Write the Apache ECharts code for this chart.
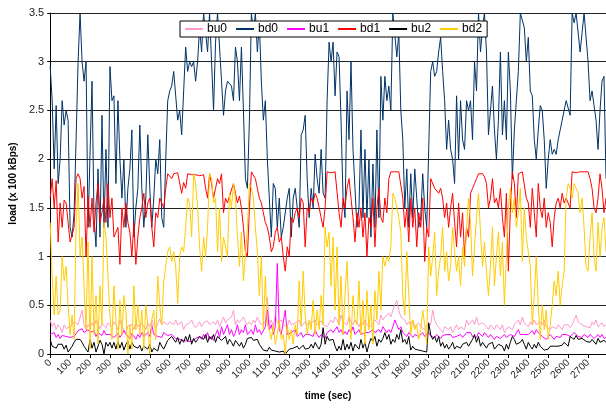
<!DOCTYPE html>
<html>
<head>
<meta charset="utf-8">
<script src="https://cdn.jsdelivr.net/npm/echarts@6/dist/echarts.min.js"></script>
<style>
  html, body { margin: 0; padding: 0; background: #fff; }
  #chart { width: 606px; height: 408px; }
</style>
</head>
<body>
<div id="chart"></div>
<script>
// sampling step of the log, seconds
const STEP = 10;

const bu0 = [
  0.35, 0.28, 0.32, 0.25, 0.3, 0.27, 0.22, 0.3, 0.26, 0.24,
  0.28, 0.3, 0.33, 0.32, 0.3, 0.28, 0.45, 0.3, 0.25, 0.3,
  0.27, 0.32, 0.28, 0.35, 0.3, 0.26, 0.31, 0.29, 0.27, 0.32,
  0.3, 0.28, 0.33, 0.3, 0.25, 0.35, 0.28, 0.3, 0.22, 0.29,
  0.27, 0.3, 0.25, 0.33, 0.28, 0.26, 0.31, 0.28, 0.25, 0.32,
  0.28, 0.35, 0.3, 0.27, 0.31, 0.36, 0.3, 0.33, 0.35, 0.3,
  0.33, 0.32, 0.3, 0.35, 0.3, 0.28, 0.33, 0.25, 0.3, 0.28,
  0.32, 0.35, 0.3, 0.27, 0.3, 0.33, 0.28, 0.32, 0.3, 0.34,
  0.3, 0.28, 0.33, 0.3, 0.35, 0.28, 0.3, 0.38, 0.32, 0.35,
  0.33, 0.38, 0.45, 0.3, 0.35, 0.32, 0.3, 0.38, 0.33, 0.3,
  0.33, 0.3, 0.35, 0.32, 0.38, 0.33, 0.3, 0.28, 0.33, 0.58,
  0.3, 0.35, 0.28, 0.4, 0.32, 0.3, 0.35, 0.3, 0.32, 0.28,
  0.35, 0.3, 0.28, 0.32, 0.3, 0.35, 0.28, 0.3, 0.33, 0.3,
  0.28, 0.32, 0.3, 0.35, 0.3, 0.28, 0.34, 0.3, 0.32, 0.28,
  0.3, 0.35, 0.32, 0.38, 0.35, 0.3, 0.4, 0.33, 0.35, 0.3,
  0.38, 0.33, 0.3, 0.35, 0.32, 0.28, 0.33, 0.3, 0.35, 0.3,
  0.32, 0.28, 0.3, 0.35, 0.33, 0.3, 0.4, 0.35, 0.38, 0.4,
  0.42, 0.38, 0.45, 0.5, 0.55, 0.45, 0.38, 0.4, 0.35, 0.3,
  0.33, 0.3, 0.35, 0.28, 0.3, 0.32, 0.28, 0.3, 0.25, 0.3,
  0.28, 0.3, 0.45, 0.35, 0.3, 0.28, 0.25, 0.22, 0.28, 0.3,
  0.25, 0.28, 0.22, 0.26, 0.3, 0.25, 0.28, 0.3, 0.25, 0.35,
  0.3, 0.28, 0.35, 0.3, 0.38, 0.3, 0.28, 0.32, 0.3, 0.28,
  0.25, 0.3, 0.28, 0.25, 0.3, 0.28, 0.25, 0.3, 0.22, 0.25,
  0.28, 0.3, 0.25, 0.3, 0.28, 0.35, 0.3, 0.38, 0.32, 0.3,
  0.28, 0.33, 0.3, 0.35, 0.3, 0.28, 0.33, 0.3, 0.35, 0.28,
  0.3, 0.25, 0.28, 0.3, 0.26, 0.3, 0.28, 0.25, 0.3, 0.28,
  0.3, 0.27, 0.3, 0.28, 0.4, 0.33, 0.35, 0.3, 0.32, 0.28,
  0.3, 0.27, 0.33, 0.3, 0.35, 0.28, 0.3, 0.32, 0.28, 0.3
];

const bd0 = [
  2.95, 2.6, 1.9, 2.55, 1.75, 2.0, 2.6, 2.35, 2.5, 2.4,
  1.3, 1.2, 1.45, 2.2, 3.0, 3.5, 3.0, 2.8, 3.0, 1.3,
  1.3, 2.8, 1.4, 1.1, 1.9, 1.2, 2.45, 1.3, 2.1, 1.3,
  2.95, 2.6, 2.65, 1.75, 2.6, 2.0, 1.6, 2.0, 1.3, 1.7,
  1.9, 2.3, 1.2, 1.5, 1.7, 2.35, 1.7, 1.3, 1.6, 2.25,
  1.7, 1.3, 1.6, 2.0, 1.85, 2.2, 1.4, 1.3, 2.0, 2.6,
  2.7, 2.75, 2.9, 2.9, 2.4, 2.5, 2.25, 2.7, 3.15, 2.9,
  3.0, 2.95, 3.0, 2.8, 3.0, 3.35, 3.1, 3.5, 3.5, 3.1,
  3.5, 3.5, 2.5, 3.2, 3.5, 3.5, 2.8, 2.45, 2.7, 2.8,
  2.8, 2.75, 2.6, 3.15, 3.0, 2.6, 3.15, 2.5, 1.8, 1.7,
  2.4, 3.5, 3.3, 3.5, 3.1, 3.4, 2.8, 2.4, 2.6, 2.0,
  1.6, 1.2, 1.75, 1.7, 1.3, 1.6, 1.2, 1.3, 1.3, 1.6,
  1.7, 1.2, 1.6, 1.7, 1.5, 1.3, 2.25, 2.3, 2.45, 1.8,
  1.4, 1.7, 1.5, 2.05, 1.8, 1.65, 2.1, 1.65, 1.6, 2.6,
  3.2, 3.0, 3.2, 2.65, 3.1, 3.05, 2.4, 1.6, 1.4, 2.7,
  2.2, 3.0, 2.1, 1.7, 1.3, 1.5, 2.3, 1.4, 2.1, 1.4,
  2.0, 1.2, 1.95, 1.3, 2.3, 1.4, 2.85, 2.4, 2.85, 2.6,
  2.75, 2.5, 3.5, 3.5, 3.05, 3.3, 2.5, 2.2, 1.5, 1.9,
  1.3, 1.85, 1.4, 1.9, 1.6, 1.3, 1.4, 1.85, 1.5, 1.3,
  1.3, 2.9, 3.0, 2.85, 2.9, 3.1, 3.25, 2.9, 2.6, 2.1,
  2.4, 2.1, 2.0, 1.75, 2.65, 2.0, 2.6, 2.2, 2.1, 2.6,
  2.5, 2.6, 2.2, 3.0, 2.7, 3.5, 3.1, 3.35, 3.5, 3.1,
  2.25, 2.5, 2.75, 2.3, 2.0, 2.4, 3.1, 2.25, 2.6, 2.2,
  3.1, 2.7, 1.8, 2.3, 2.6, 2.9, 3.5, 3.5, 3.35, 3.0,
  3.25, 2.7, 2.65, 2.2, 2.0, 2.3, 2.55, 2.5, 2.2, 1.7,
  2.0, 2.2, 2.05, 2.1, 2.05, 2.2, 2.3, 2.4, 2.5, 2.6,
  2.6, 2.45, 3.5, 3.4, 3.5, 3.5, 3.1, 3.3, 3.5, 3.5,
  3.0, 2.6, 2.7, 2.55, 2.4, 2.1, 2.5, 2.8, 2.85, 1.8
];

const bu1 = [
  0.2, 0.18, 0.22, 0.17, 0.2, 0.16, 0.19, 0.17, 0.18, 0.16,
  0.17, 0.19, 0.18, 0.2, 0.24, 0.22, 0.26, 0.22, 0.2, 0.25,
  0.22, 0.2, 0.24, 0.18, 0.22, 0.2, 0.19, 0.24, 0.2, 0.18,
  0.2, 0.22, 0.17, 0.19, 0.21, 0.17, 0.2, 0.24, 0.2, 0.18,
  0.16, 0.21, 0.18, 0.15, 0.2, 0.17, 0.22, 0.18, 0.16, 0.22,
  0.18, 0.3, 0.2, 0.22, 0.18, 0.2, 0.17, 0.22, 0.2, 0.19,
  0.17, 0.2, 0.18, 0.16, 0.14, 0.15, 0.16, 0.14, 0.15, 0.13,
  0.15, 0.13, 0.14, 0.16, 0.15, 0.18, 0.15, 0.2, 0.16, 0.22,
  0.15, 0.18, 0.14, 0.2, 0.25, 0.17, 0.28, 0.2, 0.22, 0.3,
  0.2, 0.25, 0.18, 0.22, 0.3, 0.2, 0.25, 0.22, 0.3, 0.2,
  0.22, 0.25, 0.2, 0.3, 0.22, 0.25, 0.2, 0.22, 0.28, 0.45,
  0.25, 0.3, 0.2, 0.28, 0.93, 0.25, 0.2, 0.22, 0.45, 0.2,
  0.18, 0.22, 0.2, 0.25, 0.18, 0.2, 0.22, 0.17, 0.2, 0.18,
  0.2, 0.22, 0.18, 0.25, 0.2, 0.17, 0.2, 0.18, 0.16, 0.22,
  0.2, 0.25, 0.22, 0.2, 0.28, 0.22, 0.25, 0.2, 0.23, 0.2,
  0.25, 0.22, 0.28, 0.2, 0.22, 0.25, 0.2, 0.18, 0.22, 0.2,
  0.22, 0.2, 0.25, 0.22, 0.2, 0.25, 0.22, 0.28, 0.25, 0.22,
  0.25, 0.22, 0.28, 0.35, 0.3, 0.25, 0.28, 0.22, 0.2, 0.18,
  0.22, 0.2, 0.17, 0.2, 0.22, 0.18, 0.2, 0.22, 0.18, 0.2,
  0.22, 0.18, 0.2, 0.17, 0.2, 0.18, 0.16, 0.19, 0.17, 0.2,
  0.18, 0.2, 0.17, 0.15, 0.18, 0.16, 0.2, 0.17, 0.19, 0.22,
  0.2, 0.22, 0.18, 0.2, 0.17, 0.22, 0.2, 0.18, 0.22, 0.2,
  0.17, 0.2, 0.18, 0.15, 0.18, 0.2, 0.16, 0.18, 0.2, 0.17,
  0.18, 0.2, 0.22, 0.18, 0.2, 0.25, 0.2, 0.22, 0.2, 0.18,
  0.2, 0.22, 0.24, 0.2, 0.25, 0.22, 0.2, 0.18, 0.2, 0.15,
  0.17, 0.2, 0.18, 0.15, 0.18, 0.2, 0.17, 0.2, 0.18, 0.2,
  0.2, 0.18, 0.2, 0.22, 0.2, 0.18, 0.2, 0.17, 0.2, 0.18,
  0.17, 0.2, 0.18, 0.16, 0.18, 0.2, 0.17, 0.2, 0.16, 0.17
];

const bd1 = [
  1.6, 1.8, 1.5, 1.78, 1.15, 1.55, 1.3, 1.58, 1.55, 1.35,
  1.15, 1.15, 1.3, 1.8, 1.85, 1.8, 1.6, 1.72, 1.0, 1.62,
  1.3, 1.6, 1.25, 1.55, 1.75, 1.35, 1.45, 1.6, 1.35, 1.75,
  1.4, 1.6, 1.2, 1.25, 1.3, 0.92, 1.5, 1.3, 1.55, 1.35,
  1.25, 1.0, 1.35, 0.92, 1.2, 1.4, 1.5, 1.65, 1.4, 1.55,
  1.6, 1.3, 1.1, 1.45, 1.4, 1.6, 1.55, 1.5, 1.7, 1.85,
  1.84, 1.8, 1.85, 1.83, 1.86, 1.84, 1.65, 1.76, 1.7, 1.85,
  1.85, 1.84, 1.86, 1.84, 1.85, 1.83, 1.85, 1.84, 1.7, 1.6,
  1.85, 1.75, 1.6, 1.7, 1.8, 1.75, 1.85, 1.45, 1.6, 1.55,
  1.62, 1.6, 1.75, 1.65, 1.55, 1.62, 1.5, 1.3, 1.05, 1.0,
  1.5, 1.87, 1.85, 1.8, 1.7, 1.6, 1.55, 1.45, 1.35, 1.3,
  1.2, 1.05, 1.1, 1.25, 1.3, 1.15, 1.2, 1.0, 0.85, 1.1,
  1.0, 1.4, 1.35, 1.45, 1.5, 1.4, 1.6, 1.55, 1.1, 1.5,
  1.45, 1.6, 1.55, 1.65, 1.6, 1.5, 1.4, 1.3, 1.5, 1.87,
  1.87, 1.86, 1.87, 1.87, 1.85, 1.45, 1.3, 1.6, 1.5, 1.7,
  1.8, 1.6, 1.4, 1.15, 1.45, 1.3, 1.5, 1.2, 1.45, 1.0,
  1.4, 1.3, 1.6, 1.1, 1.5, 1.7, 1.4, 1.35, 1.6, 1.45,
  1.8, 1.87, 1.87, 1.87, 1.86, 1.87, 1.85, 1.6, 1.3, 1.5,
  1.15, 1.6, 1.3, 1.5, 1.1, 1.45, 1.3, 1.6, 0.95, 1.3,
  1.2, 1.8, 1.78, 1.7, 1.72, 1.65, 1.7, 1.6, 1.4, 1.55,
  1.3, 1.5, 1.65, 1.35, 1.1, 1.55, 1.2, 1.45, 1.0, 1.3,
  1.2, 1.65, 1.7, 1.75, 1.8, 1.85, 1.87, 1.85, 1.82, 1.75,
  1.5, 1.6, 1.8, 1.55, 1.6, 1.5, 1.7, 1.4, 1.2, 1.65,
  0.85, 1.5, 1.87, 1.75, 1.4, 1.85, 1.85, 1.87, 1.85, 1.6,
  1.55, 1.3, 1.7, 1.45, 1.2, 1.75, 1.5, 1.4, 1.6, 1.3,
  1.45, 1.35, 1.1, 1.4, 1.55, 1.6, 1.5, 1.65, 1.55, 1.6,
  1.6, 1.5, 1.87, 1.87, 1.86, 1.87, 1.87, 1.86, 1.87, 1.85,
  1.87, 1.8, 1.7, 1.5, 1.45, 1.6, 1.85, 1.7, 1.45, 1.6
];

const bu2 = [
  0.15, 0.08, 0.1, 0.06, 0.1, 0.08, 0.1, 0.05, 0.09, 0.02,
  0.02, 0.08, 0.12, 0.15, 0.17, 0.15, 0.12, 0.08, 0.1, 0.02,
  0.15, 0.06, 0.12, 0.02, 0.03, 0.14, 0.1, 0.0, 0.12, 0.08,
  0.12, 0.06, 0.12, 0.05, 0.13, 0.06, 0.12, 0.04, 0.1, 0.13,
  0.05, 0.12, 0.08, 0.1, 0.06, 0.09, 0.03, 0.08, 0.1, 0.05,
  0.1, 0.02, 0.06, 0.07, 0.03, 0.12, 0.08, 0.05, 0.07, 0.14,
  0.16, 0.18, 0.2, 0.12, 0.17, 0.1, 0.15, 0.12, 0.18, 0.13,
  0.2, 0.1, 0.16, 0.12, 0.15, 0.18, 0.2, 0.15, 0.2, 0.12,
  0.18, 0.15, 0.2, 0.12, 0.18, 0.2, 0.14, 0.12, 0.18, 0.1,
  0.15, 0.12, 0.08, 0.14, 0.12, 0.08, 0.12, 0.06, 0.1, 0.16,
  0.15, 0.17, 0.14, 0.12, 0.15, 0.1, 0.08, 0.04, 0.02, 0.03,
  0.07, 0.04, 0.06, 0.03, 0.04, 0.02, 0.04, 0.03, 0.0, 0.02,
  0.05, 0.04, 0.06, 0.05, 0.08, 0.05, 0.07, 0.09, 0.05, 0.06,
  0.06, 0.1, 0.06, 0.12, 0.08, 0.05, 0.1, 0.27, 0.1, 0.18,
  0.14, 0.12, 0.15, 0.08, 0.03, 0.08, 0.04, 0.15, 0.04, 0.1,
  0.05, 0.12, 0.03, 0.1, 0.08, 0.05, 0.15, 0.06, 0.12, 0.02,
  0.1, 0.16, 0.13, 0.18, 0.08, 0.15, 0.12, 0.16, 0.22, 0.15,
  0.2, 0.1, 0.15, 0.12, 0.2, 0.15, 0.25, 0.12, 0.15, 0.1,
  0.18, 0.04, 0.08, 0.05, 0.06, 0.04, 0.06, 0.03, 0.05, 0.02,
  0.32, 0.2, 0.15, 0.18, 0.12, 0.18, 0.08, 0.12, 0.06, 0.1,
  0.05, 0.08, 0.12, 0.05, 0.08, 0.1, 0.06, 0.1, 0.08, 0.12,
  0.08, 0.1, 0.15, 0.2, 0.12, 0.18, 0.08, 0.12, 0.1, 0.06,
  0.1, 0.08, 0.12, 0.05, 0.03, 0.1, 0.12, 0.08, 0.03, 0.1,
  0.05, 0.12, 0.18, 0.15, 0.1, 0.08, 0.12, 0.15, 0.1, 0.05,
  0.12, 0.08, 0.05, 0.1, 0.06, 0.12, 0.08, 0.06, 0.04, 0.06,
  0.05, 0.08, 0.06, 0.08, 0.1, 0.08, 0.1, 0.09, 0.12, 0.1,
  0.08, 0.18, 0.17, 0.15, 0.19, 0.15, 0.17, 0.16, 0.15, 0.13,
  0.14, 0.12, 0.15, 0.13, 0.1, 0.16, 0.12, 0.1, 0.14, 0.12
];

const bd2 = [
  1.35, 0.8, 0.4, 0.8, 0.4, 0.45, 1.0, 0.75, 0.9, 0.5,
  0.2, 0.4, 0.15, 1.3, 1.75, 1.0, 1.2, 0.7, 0.25, 1.15,
  0.05, 1.0, 0.2, 0.6, 0.1, 0.7, 0.3, 1.35, 1.2, 0.8,
  0.4, 0.15, 0.7, 0.35, 0.05, 0.55, 0.2, 0.6, 0.45, 0.0,
  0.3, 0.05, 0.7, 0.25, 0.5, 0.2, 0.45, 0.05, 0.5, 0.3,
  0.0, 0.35, 0.45, 0.15, 0.8, 0.5, 0.3, 0.75, 0.9, 1.05,
  1.1, 0.95, 1.05, 0.9, 0.52, 1.0, 1.1, 1.05, 1.3, 1.6,
  1.55, 1.2, 1.85, 1.75, 1.5, 1.1, 0.85, 1.2, 1.0, 1.3,
  1.85, 1.8, 1.55, 1.6, 1.05, 1.5, 0.95, 1.2, 1.1, 1.0,
  1.65, 1.5, 1.75, 1.6, 1.2, 0.9, 1.25, 0.75, 0.75, 1.3,
  1.75, 1.7, 1.6, 1.3, 1.05, 0.6, 1.0, 0.25, 0.8, 0.3,
  0.25, 0.15, 0.3, 0.1, 0.2, 0.35, 0.15, 0.2, 0.0, 0.3,
  0.15, 0.25, 0.1, 0.3, 0.2, 0.75, 0.3, 0.85, 0.4, 0.2,
  0.35, 0.25, 0.55, 0.2, 0.45, 0.25, 0.6, 0.3, 1.3, 1.1,
  1.25, 0.7, 1.2, 0.45, 1.1, 0.3, 0.8, 0.2, 0.6, 0.95,
  0.4, 0.15, 0.6, 0.35, 0.3, 0.75, 0.2, 0.55, 0.1, 0.65,
  0.25, 0.5, 0.1, 0.65, 0.35, 0.85, 0.45, 1.0, 0.9, 1.0,
  0.95, 1.1, 1.65, 1.6, 1.6, 1.4, 1.25, 0.6, 0.4, 1.05,
  0.6, 0.2, 0.35, 0.25, 0.3, 0.15, 0.25, 0.45, 0.3, 0.1,
  1.1, 0.8, 1.0, 1.25, 0.6, 0.85, 1.0, 1.3, 0.85, 1.05,
  0.75, 0.9, 1.3, 1.05, 0.85, 1.0, 0.7, 1.1, 0.9, 1.3,
  1.6, 1.35, 0.8, 1.1, 1.4, 1.65, 1.25, 0.9, 1.15, 0.85,
  0.6, 0.9, 1.3, 0.7, 1.0, 1.25, 0.8, 1.15, 0.5, 1.0,
  1.5, 1.7, 1.45, 1.6, 1.3, 1.45, 1.7, 0.95, 1.5, 1.2,
  1.05, 0.9, 0.3, 0.6, 1.0, 0.5, 0.15, 0.5, 0.25, 0.45,
  0.15, 0.3, 0.5, 0.75, 0.6, 0.85, 0.5, 0.7, 0.85, 1.6,
  1.75, 1.7, 1.6, 1.75, 1.7, 1.65, 1.45, 1.6, 1.3, 0.9,
  0.85, 1.2, 1.45, 1.0, 0.85, 1.35, 1.0, 1.3, 1.4, 1.05
];

const seriesNames = ['bu0', 'bd0', 'bu1', 'bd1', 'bu2', 'bd2'];
const seriesValues = [bu0, bd0, bu1, bd1, bu2, bd2];
const colors = ['#ff99cc', '#003366', '#ff00ff', '#ff0000', '#000000', '#ffcc00'];

// time categories (sec), one per sample
const times = bd0.map((v, i) => i * STEP);

const chart = echarts.init(document.getElementById('chart'));

const option = {
  animation: false,
  color: colors,
  textStyle: { fontFamily: 'Liberation Sans, Arial, sans-serif' },
  grid: { left: 47, right: 0, top: 13, bottom: 54 },
  legend: {
    data: seriesNames,
    left: 180,
    top: 21,
    icon: 'rect',
    itemWidth: 18,
    itemHeight: 2,
    itemGap: 9,
    padding: [2, 5, 2, 5],
    backgroundColor: '#fff',
    borderColor: '#000',
    borderWidth: 1,
    textStyle: { fontSize: 12, color: '#000', padding: [0, 0, 0, -1] }
  },
  xAxis: {
    type: 'category',
    data: times,
    boundaryGap: false,
    name: 'time (sec)',
    nameLocation: 'middle',
    nameGap: 37,
    nameTextStyle: { fontSize: 10, fontWeight: 'bold', color: '#000' },
    axisLine: { lineStyle: { color: '#000', width: 1 } },
    axisTick: { interval: 9, length: 4, lineStyle: { color: '#000' } },
    axisLabel: { interval: 9, rotate: 45, fontSize: 10, color: '#222', margin: 7 },
    splitLine: { show: false }
  },
  yAxis: {
    type: 'value',
    min: 0,
    max: 3.5,
    interval: 0.5,
    name: 'load (x 100 kBps)',
    nameLocation: 'middle',
    nameGap: 32,
    nameTextStyle: { fontSize: 10, fontWeight: 'bold', color: '#000' },
    axisLine: { show: true, lineStyle: { color: '#000', width: 1 } },
    axisTick: { show: true, length: 3, lineStyle: { color: '#000' } },
    axisLabel: { fontSize: 11, color: '#222', margin: 6 },
    splitLine: { lineStyle: { color: '#222', width: 1 } }
  },
  series: seriesNames.map((name, i) => ({
    name: name,
    type: 'line',
    data: seriesValues[i],
    symbol: 'none',
    lineStyle: { width: 1, color: colors[i] },
    itemStyle: { color: colors[i] }
  }))
};

chart.setOption(option);
</script>
</body>
</html>
